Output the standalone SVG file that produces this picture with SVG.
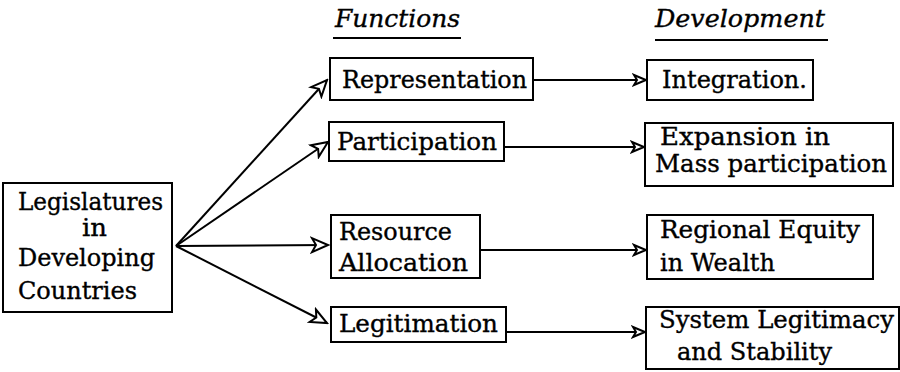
<svg xmlns="http://www.w3.org/2000/svg" width="900" height="372" viewBox="0 0 900 372">
  <style>
    .box { fill: #fff; stroke: #000; stroke-width: 2; }
    .lbl { font-family: "DejaVu Serif", "Liberation Serif", serif; font-size: 24px; fill: #000; stroke: #000; stroke-width: 0.35; }
    .head { font-family: "DejaVu Serif", "Liberation Serif", serif; font-size: 24px; font-style: italic; fill: #000; stroke: #000; stroke-width: 0.35; }
    .rule { stroke: #000; stroke-width: 2; }
    .conn { stroke: #000; stroke-width: 2; fill: none; marker-end: url(#open); }
    .conn2 { stroke: #000; stroke-width: 2; fill: none; marker-end: url(#open-small); }
  </style>
  <defs>
    <marker id="open" markerUnits="userSpaceOnUse" markerWidth="20" markerHeight="18" viewBox="-2 -2 20 18" refX="16" refY="7" orient="auto">
      <path d="M0,0 L16,7 L0,14 L4,7 Z" fill="#fff" stroke="#000" stroke-width="2"/>
    </marker>
    <marker id="open-small" markerUnits="userSpaceOnUse" markerWidth="16" markerHeight="14" viewBox="-2 -2 16 14" refX="12" refY="5" orient="auto">
      <path d="M0,0 L12,5 L0,10 L3,5 Z" fill="#fff" stroke="#000" stroke-width="2"/>
    </marker>
  </defs>
  <rect width="900" height="372" fill="#fff"/>

  <!-- column headings -->
  <g id="heading-functions">
    <text class="head" x="335" y="27" textLength="125" lengthAdjust="spacingAndGlyphs">Functions</text>
    <line class="rule" x1="333" y1="38" x2="461" y2="38"/>
  </g>
  <g id="heading-development">
    <text class="head" x="655" y="27" textLength="170" lengthAdjust="spacingAndGlyphs">Development</text>
    <line class="rule" x1="655" y1="40" x2="828" y2="40"/>
  </g>

  <!-- connectors -->
  <g id="connectors">
    <line class="conn" x1="176" y1="246" x2="327" y2="80"/>
    <line class="conn" x1="176" y1="246" x2="328" y2="142"/>
    <line class="conn" x1="176" y1="246" x2="328" y2="245"/>
    <line class="conn" x1="176" y1="246" x2="327" y2="323"/>
    <line class="conn2" x1="533" y1="80" x2="646" y2="80"/>
    <line class="conn2" x1="504" y1="147" x2="644" y2="147"/>
    <line class="conn2" x1="480" y1="250" x2="646" y2="250"/>
    <line class="conn2" x1="506" y1="332" x2="645" y2="332"/>
  </g>

  <!-- source -->
  <g id="legislatures">
    <rect class="box" x="3" y="183" width="169" height="129"/>
    <text class="lbl" x="18" y="210" textLength="145" lengthAdjust="spacingAndGlyphs">Legislatures</text>
    <text class="lbl" x="82" y="236" textLength="25" lengthAdjust="spacingAndGlyphs">in</text>
    <text class="lbl" x="18" y="266" textLength="137" lengthAdjust="spacingAndGlyphs">Developing</text>
    <text class="lbl" x="18" y="299" textLength="119" lengthAdjust="spacingAndGlyphs">Countries</text>
  </g>

  <!-- functions -->
  <g id="representation">
    <rect class="box" x="330" y="58" width="203" height="42"/>
    <text class="lbl" x="342" y="88" textLength="185" lengthAdjust="spacingAndGlyphs">Representation</text>
  </g>
  <g id="participation">
    <rect class="box" x="329" y="122" width="175" height="39"/>
    <text class="lbl" x="337" y="150" textLength="160" lengthAdjust="spacingAndGlyphs">Participation</text>
  </g>
  <g id="resource-allocation">
    <rect class="box" x="331" y="215" width="149" height="63"/>
    <text class="lbl" x="339" y="240" textLength="113" lengthAdjust="spacingAndGlyphs">Resource</text>
    <text class="lbl" x="339" y="271" textLength="129" lengthAdjust="spacingAndGlyphs">Allocation</text>
  </g>
  <g id="legitimation">
    <rect class="box" x="331" y="307" width="175" height="35"/>
    <text class="lbl" x="339" y="332" textLength="159" lengthAdjust="spacingAndGlyphs">Legitimation</text>
  </g>

  <!-- development outcomes -->
  <g id="integration">
    <rect class="box" x="647" y="60" width="166" height="40"/>
    <text class="lbl" x="662" y="88" textLength="145" lengthAdjust="spacingAndGlyphs">Integration.</text>
  </g>
  <g id="expansion">
    <rect class="box" x="645" y="123" width="248" height="63"/>
    <text class="lbl" x="660" y="145" textLength="170" lengthAdjust="spacingAndGlyphs">Expansion in</text>
    <text class="lbl" x="655" y="172" textLength="232" lengthAdjust="spacingAndGlyphs">Mass participation</text>
  </g>
  <g id="regional-equity">
    <rect class="box" x="647" y="215" width="226" height="64"/>
    <text class="lbl" x="660" y="238" textLength="200" lengthAdjust="spacingAndGlyphs">Regional Equity</text>
    <text class="lbl" x="660" y="271" textLength="115" lengthAdjust="spacingAndGlyphs">in Wealth</text>
  </g>
  <g id="system-legitimacy">
    <rect class="box" x="646" y="307" width="253" height="62"/>
    <text class="lbl" x="659" y="328" textLength="235" lengthAdjust="spacingAndGlyphs">System Legitimacy</text>
    <text class="lbl" x="677" y="360" textLength="155" lengthAdjust="spacingAndGlyphs">and Stability</text>
  </g>
</svg>
